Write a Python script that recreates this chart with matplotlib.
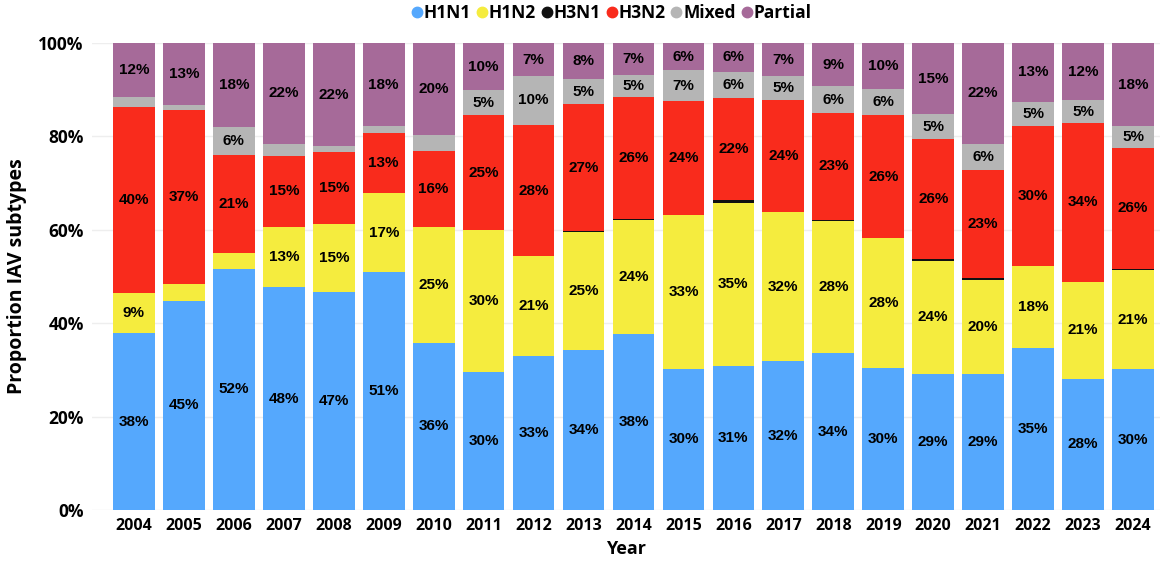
import numpy as np
import matplotlib
matplotlib.use("Agg")
import matplotlib.pyplot as plt
from matplotlib.lines import Line2D

# proportions (%) per year
years = [str(y) for y in range(2004, 2025)]
h1n1 = [37.9, 44.8, 51.7, 47.7, 46.6, 50.9, 35.8, 29.6, 33.0, 34.2, 37.7,
        30.2, 30.9, 31.8, 33.6, 30.3, 29.1, 29.1, 34.6, 28.1, 30.1]
h1n2 = [8.6, 3.6, 3.4, 13.0, 14.6, 17.0, 24.8, 30.3, 21.3, 25.3, 24.3,
        33.0, 34.8, 32.1, 28.3, 27.9, 24.3, 20.1, 17.7, 20.7, 21.3]
h3n1 = [0, 0, 0, 0, 0, 0, 0, 0, 0, 0.2, 0.4,
        0, 0.6, 0, 0.3, 0, 0.3, 0.4, 0, 0, 0.3]
h3n2 = [39.8, 37.3, 20.9, 15.2, 15.4, 12.8, 16.2, 24.7, 28.2, 27.2, 26.0,
        24.3, 21.9, 23.8, 22.9, 26.3, 25.8, 23.2, 30.0, 34.1, 25.9]
mixed = [2.1, 1.0, 6.1, 2.5, 1.3, 1.5, 3.6, 5.3, 10.4, 5.3, 4.7,
         6.7, 5.6, 5.2, 5.6, 5.6, 5.2, 5.6, 5.1, 4.8, 4.6]
partial = [11.6, 13.3, 17.9, 21.6, 22.1, 17.8, 19.6, 10.1, 7.1, 7.8, 6.9,
           5.8, 6.2, 7.1, 9.3, 9.9, 15.3, 21.6, 12.6, 12.3, 17.8]

series = ["H1N1", "H1N2", "H3N1", "H3N2", "Mixed", "Partial"]
values = [h1n1, h1n2, h3n1, h3n2, mixed, partial]
colors = ["#55A8FD", "#F5EC3E", "#111111", "#F92B1C", "#B5B5B5", "#A66A99"]

fig = plt.figure(figsize=(11.7, 5.63), dpi=100)
ax = fig.add_axes([92 / 1170, 53 / 563, 1068 / 1170, 467 / 563])

x = np.arange(len(years))
bottom = np.zeros(len(years))
for name, vals, col in zip(series, values, colors):
    vals = np.array(vals)
    ax.bar(x, vals, width=0.835, bottom=bottom, color=col, zorder=2)
    for xi, b, v in zip(x, bottom, vals):
        if v >= 4:
            ax.text(xi, b + v / 2, f"{v:.0f}%", ha="center", va="center",
                    fontsize=11, fontweight="bold", color="black",
                    family="Liberation Sans", zorder=3)
    bottom += vals

ax.set_xlim(-0.84, 20.54)
ax.set_ylim(0, 100)
ax.set_yticks([0, 20, 40, 60, 80, 100])
ax.set_yticklabels([f"{t}%" for t in [0, 20, 40, 60, 80, 100]],
                   fontsize=12.5, fontweight="bold", family="Open Sans")
ax.set_xticks(x)
ax.set_xticklabels(years, fontsize=11.5, fontweight="bold", family="Open Sans")
ax.tick_params(length=0, pad=6)
ax.grid(axis="y", color="#EEEEEE", linewidth=1, zorder=0)
for s in ax.spines.values():
    s.set_visible(False)

ax.set_ylabel("Proportion IAV subtypes", fontsize=14, fontweight="bold",
              family="Open Sans", labelpad=8)
ax.set_xlabel("Year", fontsize=13, fontweight="bold", family="Open Sans", labelpad=4)

handles = [Line2D([], [], marker="o", linestyle="none", markersize=7.5,
                  markerfacecolor=c, markeredgecolor=c) for c in colors]
fig.legend(handles, series, loc="center", bbox_to_anchor=(0.523, 0.977), ncol=6,
           frameon=False, handlelength=0.55, handletextpad=0.12, columnspacing=0.35,
           prop={"family": "Open Sans", "weight": "bold", "size": 12.5})

fig.savefig("out.png", dpi=100)
